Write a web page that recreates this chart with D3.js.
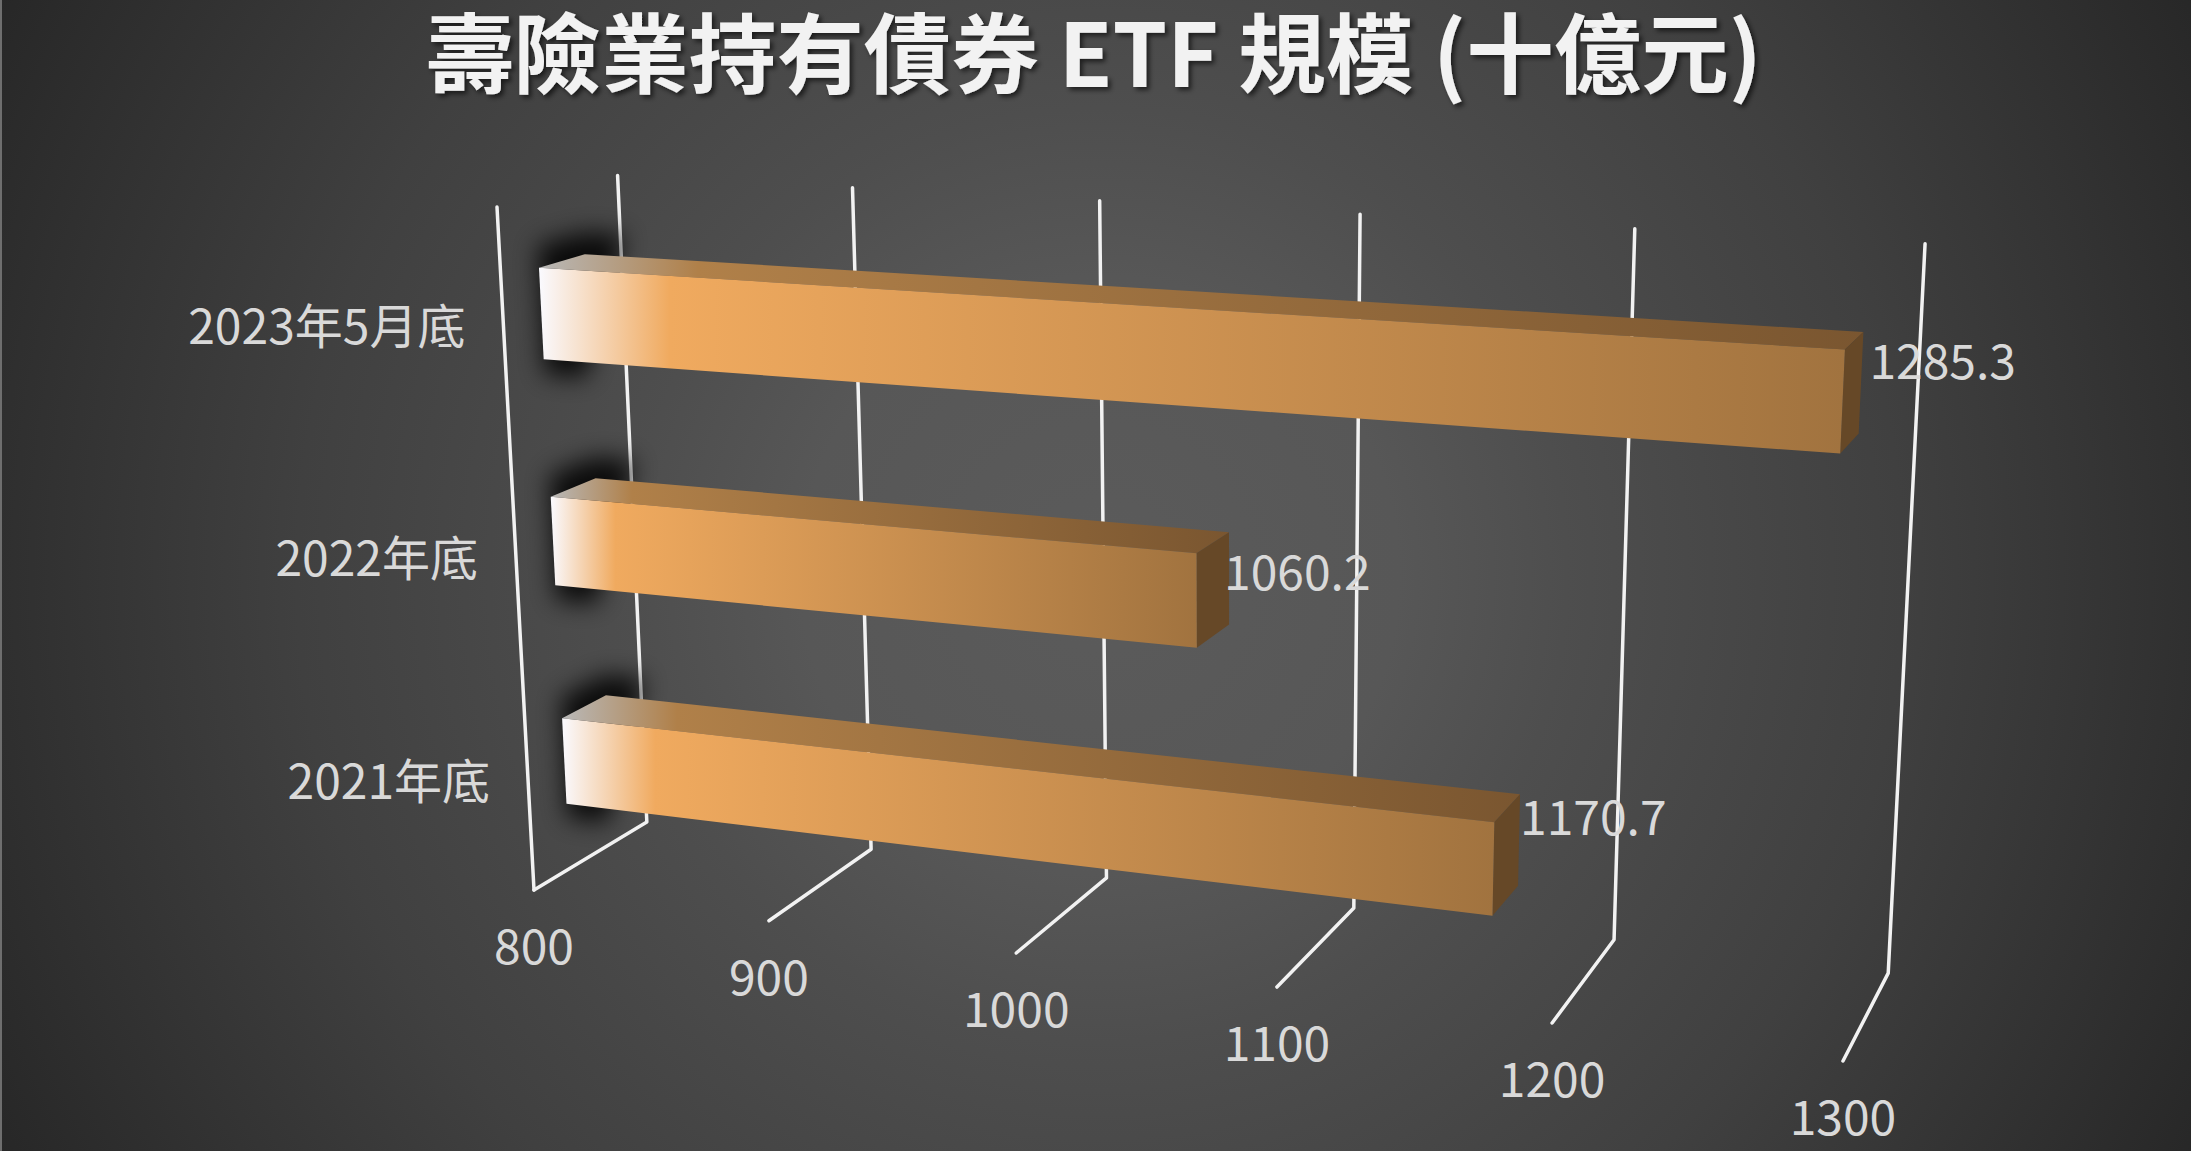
<!DOCTYPE html>
<html>
<head>
<meta charset="utf-8">
<script src="https://cdn.jsdelivr.net/npm/d3@7"></script>
<style>
  html, body { margin: 0; padding: 0; background: #fff; }
  text { font-family: "Noto Sans CJK TC", "Noto Sans", sans-serif; }
</style>
</head>
<body>
<div id="chart"></div>
<script>
var titleText = "壽險業持有債券 ETF 規模 (十億元)";
var categories = ["2023年5月底", "2022年底", "2021年底"];
var values = [1285.3, 1060.2, 1170.7];
var tickValues = [800, 900, 1000, 1100, 1200, 1300];

var width = 2200, height = 1151;

// perspective camera: (x, y, z) in the unit box -> screen
var camU = [1078.6, -61.85, 151, 534];
var camV = [38.4, -693.35, -19.5, 890];
var camW = [-0.125, -0.05, 0.059, 1];

function project(x, y, z) {
    var w = camW[0] * x + camW[1] * y + camW[2] * z + camW[3];
    return [
        (camU[0] * x + camU[1] * y + camU[2] * z + camU[3]) / w,
        (camV[0] * x + camV[1] * y + camV[2] * z + camV[3]) / w
    ];
}

var xScale = d3.scaleLinear().domain([800, 1300]).range([0, 1]);
// first category sits at the top of the wall
var yScale = d3.scaleBand().domain(categories).range([1, 0]).paddingInner(0.604).paddingOuter(0.302);
var zFront = 0.305, zBack = 0.688;

var line = d3.line();
function poly(points) {
    return line(points.map(function (p) { return project(p[0], p[1], p[2]); })) + "Z";
}

var svg = d3.select("#chart").append("svg")
    .attr("width", width)
    .attr("height", height)
    .style("display", "block");

var defs = svg.append("defs");

function addGradient(id, stops) {
    var g = defs.append("linearGradient").attr("id", id)
        .attr("x1", 0).attr("y1", 0).attr("x2", 1).attr("y2", 0);
    stops.forEach(function (s) {
        g.append("stop").attr("offset", s[0]).attr("stop-color", s[1]);
    });
}
addGradient("frontFill", [[0, "#fafaff"], [0.1, "#f0aa5f"], [1, "#a1733f"]]);
addGradient("topFill", [[0, "#b9b9b9"], [0.12, "#b08049"], [1, "#7a5630"]]);

var bgGrad = defs.append("radialGradient").attr("id", "bgFill")
    .attr("gradientUnits", "userSpaceOnUse")
    .attr("cx", 1100).attr("cy", 575).attr("r", 1245);
[[0, "#5b5b5b"], [0.24, "#575757"], [0.375, "#4e4e4e"], [0.645, "#404040"], [1, "#272727"]].forEach(function (s) {
    bgGrad.append("stop").attr("offset", s[0]).attr("stop-color", s[1]);
});

defs.append("filter").attr("id", "barShadow")
    .attr("x", "-80%").attr("y", "-80%").attr("width", "260%").attr("height", "260%")
    .append("feGaussianBlur").attr("stdDeviation", 12);

var titleShadow = defs.append("filter").attr("id", "titleShadow")
    .attr("x", "-5%").attr("y", "-20%").attr("width", "110%").attr("height", "140%");
titleShadow.append("feDropShadow")
    .attr("dx", 3).attr("dy", 3).attr("stdDeviation", 2.5)
    .attr("flood-color", "#000").attr("flood-opacity", 0.6);

// background
svg.append("rect")
    .attr("x", 2).attr("y", 0)
    .attr("width", 2189).attr("height", height)
    .attr("fill", "url(#bgFill)");
svg.append("rect")
    .attr("x", 0).attr("y", 0)
    .attr("width", 2).attr("height", height)
    .attr("fill", "#6e6e6e");

// gridlines: front of floor -> back of floor -> up the back wall
var grid = svg.append("g").attr("fill", "none")
    .attr("stroke", "#f2f2f2").attr("stroke-width", 3.5)
    .attr("stroke-linecap", "round").attr("stroke-linejoin", "round");

grid.selectAll("path.tick").data(tickValues).enter().append("path")
    .attr("class", "tick")
    .attr("d", function (d) {
        var x = xScale(d);
        return line([project(x, 0, 0), project(x, 0, 1), project(x, 1, 1)]);
    });

// left wall, front edge
grid.append("path")
    .attr("d", line([project(0, 0, 0), project(0, 1, 0)]));

// bars
var bars = svg.selectAll("g.bar")
    .data(categories.map(function (c, i) { return { category: c, value: values[i] }; }))
    .enter().append("g").attr("class", "bar");

function yLow(d) { return yScale(d.category); }
function yHigh(d) { return yScale(d.category) + yScale.bandwidth(); }

// dark blur behind the left end of each bar
bars.append("path")
    .attr("fill", "#000")
    .attr("opacity", 0.85)
    .attr("filter", "url(#barShadow)")
    .attr("d", function (d) {
        var lo = yLow(d) - 0.022, hi = yHigh(d) + 0.032, end = 0.035;
        return poly([
            [0, lo, zFront], [0, hi, zFront], [0, hi, zBack],
            [end, hi, zBack], [end, lo, zFront]
        ]);
    });

bars.append("path")
    .attr("fill", "url(#topFill)")
    .attr("d", function (d) {
        var x = xScale(d.value), y = yHigh(d);
        return poly([[0, y, zFront], [0, y, zBack], [x, y, zBack], [x, y, zFront]]);
    });

bars.append("path")
    .attr("fill", "#664827")
    .attr("d", function (d) {
        var x = xScale(d.value);
        return poly([[x, yLow(d), zFront], [x, yHigh(d), zFront], [x, yHigh(d), zBack], [x, yLow(d), zBack]]);
    });

bars.append("path")
    .attr("fill", "url(#frontFill)")
    .attr("d", function (d) {
        var x = xScale(d.value);
        return poly([[0, yLow(d), zFront], [0, yHigh(d), zFront], [x, yHigh(d), zFront], [x, yLow(d), zFront]]);
    });

// value labels, hung off the bar's top back corner
var valueNudge = [[6, 26], [-5, 37], [0, 20]];
svg.selectAll("text.value")
    .data(values).enter().append("text")
    .attr("class", "value")
    .attr("font-size", 48)
    .attr("fill", "#d9d9d9")
    .attr("dominant-baseline", "central")
    .attr("x", function (d, i) {
        return project(xScale(d), yScale(categories[i]) + yScale.bandwidth(), zBack)[0] + valueNudge[i][0];
    })
    .attr("y", function (d, i) {
        return project(xScale(d), yScale(categories[i]) + yScale.bandwidth(), zBack)[1] + valueNudge[i][1];
    })
    .text(function (d) { return d3.format(".1f")(d); });

// value axis labels
svg.selectAll("text.tickLabel")
    .data(tickValues).enter().append("text")
    .attr("class", "tickLabel")
    .attr("font-size", 48)
    .attr("fill", "#d9d9d9")
    .attr("text-anchor", "middle")
    .attr("dominant-baseline", "central")
    .attr("x", function (d) { return project(xScale(d), 0, 0)[0]; })
    .attr("y", function (d) { return project(xScale(d), 0, 0)[1] + 53; })
    .text(function (d) { return d; });

// category labels
var categoryNudge = [-3, -2, -3];
svg.selectAll("text.category")
    .data(categories).enter().append("text")
    .attr("class", "category")
    .attr("font-size", 48)
    .attr("fill", "#d9d9d9")
    .attr("text-anchor", "end")
    .attr("dominant-baseline", "central")
    .attr("x", function (d) { return project(0, yScale(d) + yScale.bandwidth() / 2, 0)[0] - 38; })
    .attr("y", function (d, i) { return project(0, yScale(d) + yScale.bandwidth() / 2, 0)[1] + categoryNudge[i]; })
    .text(function (d) { return d; });

// title
svg.append("text")
    .attr("x", 1094)
    .attr("y", 87)
    .attr("text-anchor", "middle")
    .attr("font-size", 87.5)
    .attr("font-weight", 700)
    .attr("fill", "#f2f2f2")
    .attr("filter", "url(#titleShadow)")
    .text(titleText);
</script>
</body>
</html>
